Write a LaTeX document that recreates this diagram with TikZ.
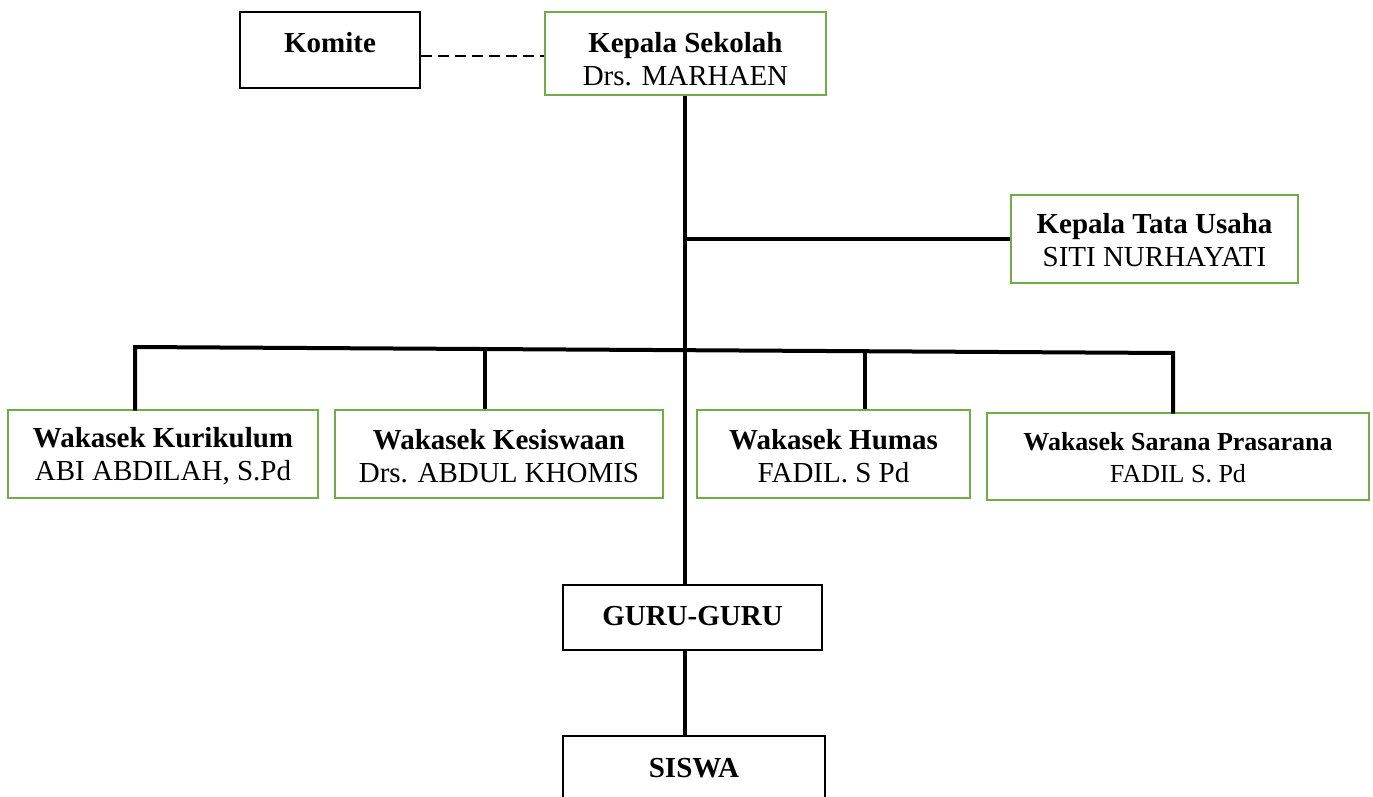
\documentclass[tikz,border=0pt]{standalone}
\usepackage{fontspec}
\setmainfont{Liberation Serif}
\definecolor{boxgreen}{HTML}{70AD47}
\begin{document}
\begin{tikzpicture}[x=1pt,y=-1pt,
  gbox/.style={draw=boxgreen,line width=2.6pt,rectangle,inner sep=0pt},
  bbox/.style={draw=black,line width=2.8pt,rectangle,inner sep=0pt},
  txt/.style={inner sep=0pt,align=center,font=\fontsize{29}{33}\selectfont},
  txts/.style={inner sep=0pt,align=center,font=\fontsize{26}{32}\selectfont},
  conn/.style={line width=4pt,draw=black},
  dashconn/.style={line width=1.5pt,draw=black,dash pattern=on 11pt off 6pt}]
\useasboundingbox (0,0) rectangle (1373,796);
% boxes
\node[bbox,minimum width=180pt,minimum height=76pt] (komite) at (330,50) {};
\node[gbox,minimum width=281pt,minimum height=83pt] (ks) at (685.5,53.5) {};
\node[gbox,minimum width=287pt,minimum height=88pt] (ktu) at (1154.5,239) {};
\node[gbox,minimum width=310pt,minimum height=88pt] (wk1) at (163,454) {};
\node[gbox,minimum width=328pt,minimum height=88pt] (wk2) at (499,454) {};
\node[gbox,minimum width=273pt,minimum height=88pt] (wk3) at (833.5,454) {};
\node[gbox,minimum width=382pt,minimum height=87pt] (wk4) at (1178,456.5) {};
\node[bbox,minimum width=259pt,minimum height=65pt] (guru) at (692.5,617.5) {};
\node[bbox,minimum width=262pt,minimum height=94pt] (siswa) at (694,783) {};
% texts
\node[txt] (tkomite) at (330,43) {\textbf{Komite}};
\node[txt] (tks) at (685.5,59) {\textbf{Kepala Sekolah}\\Drs. MARHAEN};
\node[txt] (tktu) at (1154.5,240) {\textbf{Kepala Tata Usaha}\\SITI NURHAYATI};
\node[txt] (twk1) at (163,456.5) {\textbf{Wakasek Kurikulum}\\ABI ABDILAH, S.Pd};
\node[txt] (twk2) at (499,456.5) {\textbf{Wakasek Kesiswaan}\\Drs. ABDUL KHOMIS};
\node[txt] (twk3) at (833.5,456.5) {\textbf{Wakasek Humas}\\FADIL. S Pd};
\node[txts] (twk4) at (1178,458) {\textbf{Wakasek Sarana Prasarana}\\FADIL S. Pd};
\node[txt] (tguru) at (692.5,616) {\textbf{GURU-GURU}};
\node[txt] (tsiswa) at (694,768) {\textbf{SISWA}};
% connectors
\coordinate (dk) at ([yshift=-6pt]komite.east);
\draw[dashconn] (dk) -- (dk -| ks.west);
\coordinate (trunk) at (685,95);
\draw[conn] (ks.south -| trunk) -- (guru.north -| trunk);
\draw[conn] (guru.south -| trunk) -- (siswa.north -| trunk);
\draw[conn] (ktu.west -| trunk) -- (ktu.west);
\coordinate (busL) at (135,347);
\coordinate (j2) at (485,349);
\coordinate (j3) at (865,351);
\coordinate (busR) at (1173,353);
\draw[conn,line cap=rect] (busL |- wk1.north) -- (busL) -- (busR) -- (busR |- wk4.north);
\draw[conn] (j2) -- (j2 |- wk2.north);
\draw[conn] (j3) -- (j3 |- wk3.north);
\end{tikzpicture}
\end{document}
